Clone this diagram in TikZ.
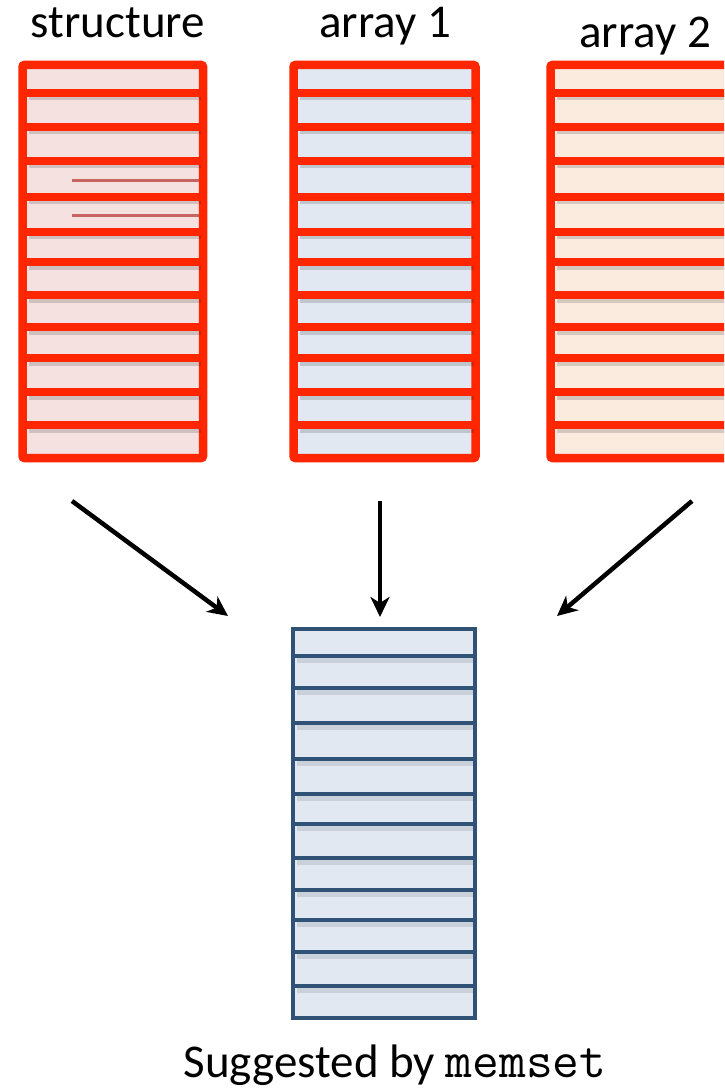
\documentclass[tikz,border=0pt]{standalone}
\usepackage{fontspec}
\setmainfont{Carlito}
\usetikzlibrary{arrows.meta}
\definecolor{redline}{RGB}{255,38,0}
\definecolor{fillA}{RGB}{244,225,224}
\definecolor{fillB}{RGB}{225,232,242}
\definecolor{fillC}{RGB}{251,235,223}
\definecolor{blueline}{RGB}{47,82,118}
\definecolor{thinred}{RGB}{200,100,98}
\tikzset{
  redbox/.style={draw=redline,line width=8.5pt,rounded corners=2pt,inner sep=0pt,outer sep=0pt,anchor=north west},
  bluebox/.style={draw=blueline,line width=4pt,inner sep=0pt,outer sep=0pt,anchor=north west,fill=fillB},
  redrow/.style={draw=redline,line width=8.5pt},
  bluerow/.style={draw=blueline,line width=4pt},
  shade/.style={draw=black,opacity=0.15,line width=7pt},
  thinrow/.style={draw=thinred,line width=3pt},
  arr/.style={draw=black,line width=4.5pt,-{Stealth[length=20pt,width=19pt,inset=6pt]}},
  lbl/.style={font=\fontsize{47}{56}\selectfont,anchor=base,inner sep=0pt}
}
\begin{document}
\begin{tikzpicture}[x=1pt,y=-1pt]
\useasboundingbox (0,0) rectangle (724,1091);
\clip (0,0) rectangle (724,1091);
% labels
\node[lbl] (ts) at (118,38) {structure};
\node[lbl] (t1) at (385,38) {array 1};
\node[lbl] (t2) at (645,48) {array 2};
% boxes
\node[redbox,fill=fillA,minimum width=180.5pt,minimum height=393pt] (s) at (22.5,65) {};
\node[redbox,fill=fillB,minimum width=182pt,minimum height=393pt] (a1) at (293.5,65) {};
\node[redbox,fill=fillC,minimum width=200pt,minimum height=393pt] (a2) at (550.5,65) {};
\node[bluebox,minimum width=182pt,minimum height=389pt] (r) at (293,629) {};
% red rows
\foreach \b in {s,a1,a2}{
  \foreach \y in {93,127,161,197,232,262,295,327,358,392,425}{
    \draw[shade] ([xshift=6pt]\b.west |- 0,\y+4) -- ([xshift=-2pt]\b.east |- 0,\y+4);
  }
  \foreach \y in {93,127,161,197,232,262,295,327,358,392,425}{
    \draw[redrow] (\b.west |- 0,\y) -- (\b.east |- 0,\y);
  }
}
% thin lines in structure
\draw[thinrow] (72,181) -- ([xshift=-4pt]s.east |- 0,181);
\draw[thinrow] (72,216) -- ([xshift=-4pt]s.east |- 0,216);
% blue rows
\foreach \y in {656,688,723,759,794,824,858,890,920,952,986}{
  \draw[draw=black,opacity=0.1,line width=5pt] ([xshift=4pt]r.west |- 0,\y+4) -- ([xshift=-2pt]r.east |- 0,\y+4);
  \draw[bluerow] (r.west |- 0,\y) -- (r.east |- 0,\y);
}
% arrows
\coordinate (p1) at (72,501);
\coordinate (q1) at (228,616);
\coordinate (p2) at (380,501);
\coordinate (q2) at (380,617);
\coordinate (p3) at (692,501);
\coordinate (q3) at (557,616);
\draw[arr] (p1) -- (q1);
\draw[arr] (p2) -- (q2);
\draw[arr] (p3) -- (q3);
% caption
\node[lbl] (cap) at (395,1077) {Suggested by {\fontsize{52}{56}\selectfont\ttfamily memset}};
\end{tikzpicture}
\end{document}
